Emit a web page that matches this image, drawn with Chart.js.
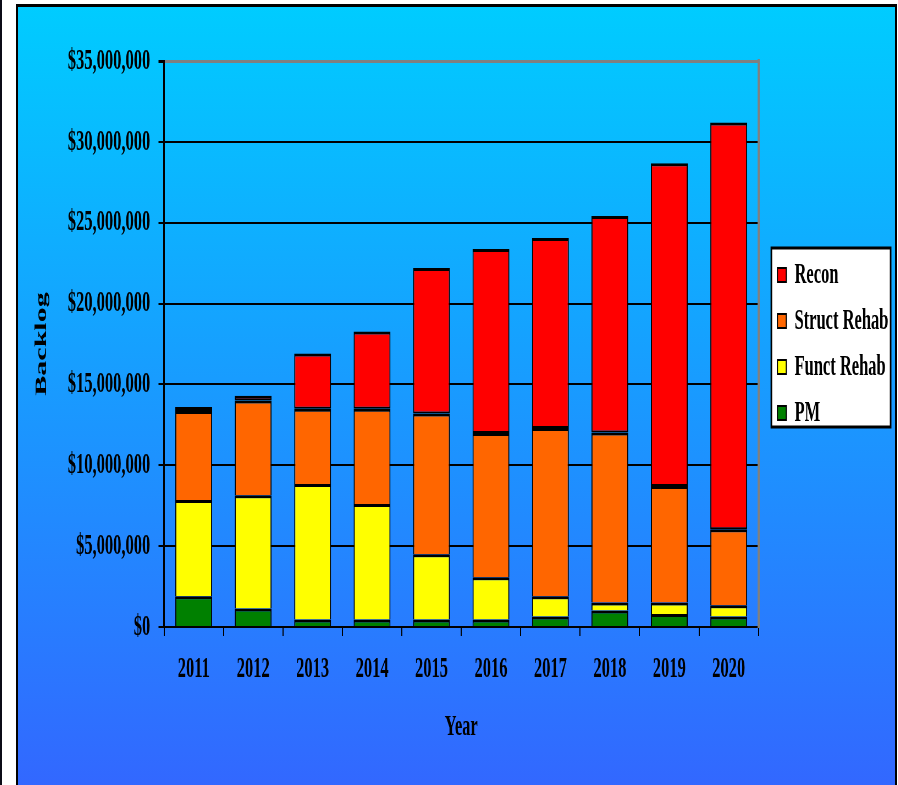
<!DOCTYPE html>
<html>
<head>
<meta charset="utf-8">
<script src="https://cdn.jsdelivr.net/npm/chart.js@4.4.0/dist/chart.umd.min.js"></script>
<style>
  html, body { margin: 0; padding: 0; background: #fff; width: 898px; height: 785px; overflow: hidden; }
  .edge { position: absolute; left: 0; top: 0; width: 2px; height: 785px; background: #0b0b16; }
  .panel {
    position: absolute; left: 16px; top: 4px; width: 877px; height: 800px;
    border-left: 2px solid #000; border-right: 2px solid #000; border-top: 3px solid #000;
    background: linear-gradient(to bottom, #00ccff 0px, #3366ff 790px);
  }
  #myChart { position: absolute; left: 0; top: 0; width: 877px; height: 778px; }
</style>
</head>
<body>
<div class="edge"></div>
<div class="panel">
  <canvas id="myChart" width="1595" height="778" style="width:877px;height:778px"></canvas>
</div>
<script>
const years = ["2011", "2012", "2013", "2014", "2015", "2016", "2017", "2018", "2019", "2020"];
const pm = [1900000, 1150000, 470000, 470000, 470000, 470000, 650000, 1020000, 800000, 650000];
const functRehab = [5950000, 7000000, 8380000, 7130000, 4030000, 2600000, 1250000, 500000, 720000, 700000];
const structRehab = [5500000, 5850000, 4650000, 5900000, 8700000, 8930000, 10400000, 10500000, 7200000, 4700000];
const recon = [250000, 300000, 3420000, 4780000, 9000000, 11370000, 11750000, 13400000, 19950000, 25150000];
const yTicks = [0, 5000000, 10000000, 15000000, 20000000, 25000000, 30000000, 35000000];

// the source picture is squeezed sideways, the canvas is drawn wide and shown narrow
Chart.defaults.font.family = "'Liberation Serif', 'Times New Roman', serif";
Chart.defaults.font.weight = "bold";
Chart.defaults.font.size = 30;
Chart.defaults.color = "#000";

const legendBackground = {
  id: "legendBackground",
  beforeDraw(chart) {
    const boxes = chart.legend.legendHitBoxes;
    if (!boxes || !boxes.length) return;
    const left = Math.min(...boxes.map((b) => b.left)) - 11;
    const top = Math.min(...boxes.map((b) => b.top)) - 12;
    const right = Math.max(...boxes.map((b) => b.left + b.width)) + 4;
    const bottom = Math.max(...boxes.map((b) => b.top + b.height)) - 1;
    const ctx = chart.ctx;
    ctx.save();
    ctx.fillStyle = "#fff";
    ctx.fillRect(left, top, right - left, bottom - top);
    ctx.strokeStyle = "#000";
    ctx.lineWidth = 3;
    ctx.strokeRect(left, top, right - left, bottom - top);
    ctx.restore();
  },
};

const series = [
  { label: "PM", data: pm, color: "#008000", bottomLine: 0 },
  { label: "Funct Rehab", data: functRehab, color: "#ffff00", bottomLine: 0 },
  { label: "Struct Rehab", data: structRehab, color: "#ff6600", bottomLine: 0 },
  { label: "Recon", data: recon, color: "#ff0000", bottomLine: 2 },
];

const ctx = document.getElementById("myChart");
new Chart(ctx, {
  type: "bar",
  data: {
    labels: years,
    datasets: series.map((s) => ({
      label: s.label,
      data: s.data,
      backgroundColor: s.color,
      borderColor: "#000",
      // segments share one line where they meet
      borderWidth: { top: 3, right: 2, bottom: s.bottomLine, left: 2 },
      borderSkipped: false,
      categoryPercentage: 0.62,
      barPercentage: 1,
    })),
  },
  options: {
    responsive: false,
    animation: false,
    devicePixelRatio: 1,
    layout: { padding: { top: 54, right: 2, bottom: 0, left: 0 } },
    plugins: {
      tooltip: { enabled: false },
      legend: {
        position: "right",
        fullSize: false,
        reverse: true,
        labels: {
          boxWidth: 16,
          boxHeight: 14,
          padding: 16,
          font: { size: 30, weight: "bold" },
          generateLabels: (chart) =>
            Chart.defaults.plugins.legend.labels
              .generateLabels(chart)
              .map((item) => ({ ...item, lineWidth: 2 })),
        },
      },
    },
    scales: {
      x: {
        stacked: true,
        grid: {
          offset: true,
          drawOnChartArea: false,
          drawTicks: true,
          tickLength: 9,
          color: "#000",
          lineWidth: 2,
        },
        border: { color: "#000", width: 2 },
        ticks: { padding: 15, font: { size: 30, weight: "bold" } },
        title: {
          display: true,
          text: "Year",
          font: { size: 30, weight: "bold" },
          padding: { top: 7, bottom: 40 },
        },
      },
      y: {
        stacked: true,
        min: 0,
        max: 35000000,
        afterBuildTicks: (scale) => {
          scale.ticks = yTicks.map((v) => ({ value: v }));
        },
        afterFit: (scale) => {
          scale.width = 265.5;
        },
        grid: {
          color: (c) => (c.tick && c.tick.value === 35000000 ? "#808080" : "#000"),
          lineWidth: (c) => (c.tick && c.tick.value === 35000000 ? 3 : 2),
          tickColor: "#000",
          tickLength: 10,
        },
        border: { color: "#000", width: 3 },
        ticks: {
          padding: 15,
          font: { size: 30, weight: "bold" },
          callback: (v) => "$" + Number(v).toLocaleString("en-US"),
        },
        title: {
          display: true,
          text: "Backlog",
          font: { size: 30, weight: "bold" },
          padding: { top: 25, bottom: 0 },
        },
      },
      y2: {
        position: "right",
        display: true,
        grid: { display: false, drawTicks: false },
        ticks: { display: false },
        border: { color: "#808080", width: 4 },
        afterFit: (scale) => {
          scale.width = 18.5;
        },
      },
    },
  },
  plugins: [legendBackground],
});
</script>
</body>
</html>
